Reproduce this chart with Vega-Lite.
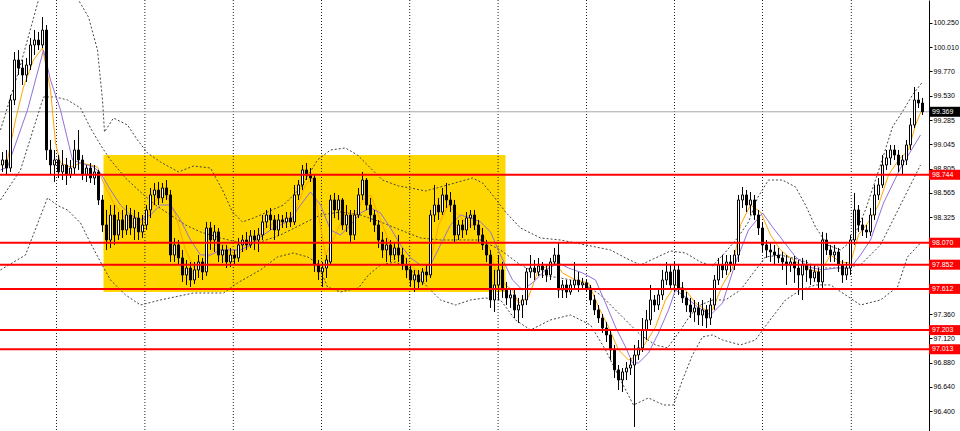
{
"$schema":"https://vega.github.io/schema/vega-lite/v6.json",
"width":929,"height":431,
"autosize":{"type":"none"},
"padding":{"left":0,"top":0,"right":31,"bottom":0},
"background":"white",
"config":{"view":{"stroke":null},"font":"Liberation Sans",
 "axisY":{"labelOverlap":false,"labelBound":false,"labelFlush":false,"labelFontSize":7,"labelFont":"Liberation Sans","labelColor":"#000000","tickColor":"#000000","domainColor":"#000000","tickSize":3,"labelPadding":1,"grid":false,"title":null,"tickCount":100}},
"datasets":{
"candles":[
{"i":0,"o":98.841,"h":98.970,"l":98.772,"c":98.891},
{"i":1,"o":98.891,"h":98.990,"l":98.742,"c":98.811},
{"i":2,"o":98.811,"h":99.536,"l":98.772,"c":99.486},
{"i":3,"o":99.486,"h":99.962,"l":99.436,"c":99.883},
{"i":4,"o":99.883,"h":99.982,"l":99.734,"c":99.803},
{"i":5,"o":99.803,"h":99.883,"l":99.635,"c":99.734},
{"i":6,"o":99.734,"h":99.903,"l":99.665,"c":99.833},
{"i":7,"o":99.833,"h":100.101,"l":99.784,"c":100.032},
{"i":8,"o":100.032,"h":100.180,"l":99.932,"c":100.081},
{"i":9,"o":100.081,"h":100.161,"l":99.982,"c":100.032},
{"i":10,"o":100.032,"h":100.309,"l":100.002,"c":100.180},
{"i":11,"o":100.180,"h":100.230,"l":98.891,"c":98.990},
{"i":12,"o":98.990,"h":99.089,"l":98.742,"c":98.841},
{"i":13,"o":98.841,"h":98.990,"l":98.673,"c":98.891},
{"i":14,"o":98.891,"h":98.940,"l":98.712,"c":98.772},
{"i":15,"o":98.772,"h":98.990,"l":98.692,"c":98.841},
{"i":16,"o":98.841,"h":98.911,"l":98.643,"c":98.742},
{"i":17,"o":98.742,"h":98.891,"l":98.712,"c":98.811},
{"i":18,"o":98.811,"h":99.089,"l":98.742,"c":98.990},
{"i":19,"o":98.990,"h":99.188,"l":98.792,"c":98.891},
{"i":20,"o":98.891,"h":98.940,"l":98.692,"c":98.742},
{"i":21,"o":98.742,"h":98.841,"l":98.673,"c":98.811},
{"i":22,"o":98.811,"h":98.861,"l":98.663,"c":98.712},
{"i":23,"o":98.712,"h":98.841,"l":98.643,"c":98.772},
{"i":24,"o":98.772,"h":98.792,"l":98.444,"c":98.494},
{"i":25,"o":98.494,"h":98.544,"l":98.177,"c":98.246},
{"i":26,"o":98.246,"h":98.395,"l":97.998,"c":98.097},
{"i":27,"o":98.097,"h":98.444,"l":98.018,"c":98.345},
{"i":28,"o":98.345,"h":98.444,"l":98.048,"c":98.147},
{"i":29,"o":98.147,"h":98.375,"l":98.097,"c":98.296},
{"i":30,"o":98.296,"h":98.395,"l":98.117,"c":98.196},
{"i":31,"o":98.196,"h":98.444,"l":98.147,"c":98.345},
{"i":32,"o":98.345,"h":98.415,"l":98.147,"c":98.216},
{"i":33,"o":98.216,"h":98.395,"l":98.097,"c":98.315},
{"i":34,"o":98.315,"h":98.375,"l":98.097,"c":98.177},
{"i":35,"o":98.177,"h":98.345,"l":98.117,"c":98.246},
{"i":36,"o":98.246,"h":98.444,"l":98.196,"c":98.395},
{"i":37,"o":98.395,"h":98.613,"l":98.315,"c":98.544},
{"i":38,"o":98.544,"h":98.663,"l":98.444,"c":98.593},
{"i":39,"o":98.593,"h":98.673,"l":98.444,"c":98.514},
{"i":40,"o":98.514,"h":98.663,"l":98.464,"c":98.613},
{"i":41,"o":98.613,"h":98.692,"l":98.494,"c":98.544},
{"i":42,"o":98.544,"h":98.593,"l":97.879,"c":97.948},
{"i":43,"o":97.948,"h":98.117,"l":97.879,"c":98.048},
{"i":44,"o":98.048,"h":98.097,"l":97.849,"c":97.919},
{"i":45,"o":97.919,"h":97.998,"l":97.681,"c":97.750},
{"i":46,"o":97.750,"h":97.899,"l":97.651,"c":97.819},
{"i":47,"o":97.819,"h":97.879,"l":97.631,"c":97.700},
{"i":48,"o":97.700,"h":97.879,"l":97.661,"c":97.800},
{"i":49,"o":97.800,"h":97.948,"l":97.720,"c":97.879},
{"i":50,"o":97.879,"h":97.919,"l":97.700,"c":97.780},
{"i":51,"o":97.780,"h":98.276,"l":97.740,"c":98.216},
{"i":52,"o":98.216,"h":98.276,"l":97.998,"c":98.097},
{"i":53,"o":98.097,"h":98.246,"l":97.978,"c":98.177},
{"i":54,"o":98.177,"h":98.216,"l":97.879,"c":97.948},
{"i":55,"o":97.948,"h":98.048,"l":97.869,"c":97.998},
{"i":56,"o":97.998,"h":98.048,"l":97.819,"c":97.879},
{"i":57,"o":97.879,"h":98.018,"l":97.829,"c":97.948},
{"i":58,"o":97.948,"h":97.998,"l":97.849,"c":97.919},
{"i":59,"o":97.919,"h":98.117,"l":97.879,"c":98.048},
{"i":60,"o":98.048,"h":98.147,"l":97.978,"c":98.097},
{"i":61,"o":98.097,"h":98.177,"l":97.998,"c":98.048},
{"i":62,"o":98.048,"h":98.196,"l":98.018,"c":98.137},
{"i":63,"o":98.137,"h":98.196,"l":97.998,"c":98.097},
{"i":64,"o":98.097,"h":98.216,"l":97.978,"c":98.147},
{"i":65,"o":98.147,"h":98.345,"l":98.097,"c":98.276},
{"i":66,"o":98.276,"h":98.395,"l":98.216,"c":98.345},
{"i":67,"o":98.345,"h":98.415,"l":98.196,"c":98.296},
{"i":68,"o":98.296,"h":98.345,"l":98.097,"c":98.196},
{"i":69,"o":98.196,"h":98.355,"l":98.137,"c":98.296},
{"i":70,"o":98.296,"h":98.345,"l":98.216,"c":98.276},
{"i":71,"o":98.276,"h":98.375,"l":98.216,"c":98.315},
{"i":72,"o":98.315,"h":98.375,"l":98.226,"c":98.276},
{"i":73,"o":98.276,"h":98.643,"l":98.246,"c":98.544},
{"i":74,"o":98.544,"h":98.692,"l":98.494,"c":98.643},
{"i":75,"o":98.643,"h":98.841,"l":98.593,"c":98.792},
{"i":76,"o":98.792,"h":98.861,"l":98.692,"c":98.742},
{"i":77,"o":98.742,"h":98.811,"l":98.673,"c":98.712},
{"i":78,"o":98.712,"h":98.742,"l":97.780,"c":97.849},
{"i":79,"o":97.849,"h":97.899,"l":97.700,"c":97.780},
{"i":80,"o":97.780,"h":97.879,"l":97.631,"c":97.819},
{"i":81,"o":97.819,"h":97.948,"l":97.720,"c":97.899},
{"i":82,"o":97.879,"h":98.544,"l":97.849,"c":98.494},
{"i":83,"o":98.494,"h":98.564,"l":98.315,"c":98.395},
{"i":84,"o":98.395,"h":98.544,"l":98.296,"c":98.494},
{"i":85,"o":98.494,"h":98.514,"l":98.196,"c":98.246},
{"i":86,"o":98.246,"h":98.444,"l":98.177,"c":98.345},
{"i":87,"o":98.345,"h":98.395,"l":98.077,"c":98.147},
{"i":88,"o":98.147,"h":98.395,"l":98.097,"c":98.345},
{"i":89,"o":98.345,"h":98.613,"l":98.315,"c":98.544},
{"i":90,"o":98.544,"h":98.772,"l":98.494,"c":98.692},
{"i":91,"o":98.692,"h":98.712,"l":98.395,"c":98.444},
{"i":92,"o":98.444,"h":98.514,"l":98.276,"c":98.345},
{"i":93,"o":98.345,"h":98.395,"l":98.177,"c":98.246},
{"i":94,"o":98.246,"h":98.296,"l":98.018,"c":98.097},
{"i":95,"o":98.097,"h":98.177,"l":97.919,"c":97.998},
{"i":96,"o":97.998,"h":98.117,"l":97.879,"c":98.048},
{"i":97,"o":98.048,"h":98.097,"l":97.879,"c":97.948},
{"i":98,"o":97.948,"h":98.067,"l":97.899,"c":98.018},
{"i":99,"o":98.018,"h":98.147,"l":97.879,"c":97.948},
{"i":100,"o":97.948,"h":98.018,"l":97.800,"c":97.849},
{"i":101,"o":97.849,"h":97.919,"l":97.720,"c":97.800},
{"i":102,"o":97.800,"h":97.849,"l":97.631,"c":97.700},
{"i":103,"o":97.700,"h":97.800,"l":97.581,"c":97.750},
{"i":104,"o":97.750,"h":97.800,"l":97.621,"c":97.681},
{"i":105,"o":97.681,"h":97.819,"l":97.651,"c":97.780},
{"i":106,"o":97.780,"h":97.849,"l":97.681,"c":97.750},
{"i":107,"o":97.750,"h":98.395,"l":97.720,"c":98.345},
{"i":108,"o":98.345,"h":98.643,"l":98.276,"c":98.444},
{"i":109,"o":98.444,"h":98.514,"l":98.296,"c":98.375},
{"i":110,"o":98.375,"h":98.613,"l":98.345,"c":98.544},
{"i":111,"o":98.544,"h":98.663,"l":98.415,"c":98.494},
{"i":112,"o":98.494,"h":98.573,"l":98.375,"c":98.444},
{"i":113,"o":98.444,"h":98.494,"l":98.067,"c":98.147},
{"i":114,"o":98.147,"h":98.296,"l":98.097,"c":98.246},
{"i":115,"o":98.246,"h":98.296,"l":98.117,"c":98.196},
{"i":116,"o":98.196,"h":98.375,"l":98.147,"c":98.315},
{"i":117,"o":98.315,"h":98.395,"l":98.216,"c":98.345},
{"i":118,"o":98.345,"h":98.395,"l":98.196,"c":98.246},
{"i":119,"o":98.246,"h":98.296,"l":98.077,"c":98.147},
{"i":120,"o":98.147,"h":98.216,"l":97.998,"c":98.048},
{"i":121,"o":98.048,"h":98.097,"l":97.879,"c":97.948},
{"i":122,"o":97.948,"h":97.998,"l":97.423,"c":97.502},
{"i":123,"o":97.502,"h":97.800,"l":97.383,"c":97.651},
{"i":124,"o":97.651,"h":97.948,"l":97.502,"c":97.800},
{"i":125,"o":97.800,"h":97.879,"l":97.522,"c":97.601},
{"i":126,"o":97.601,"h":97.681,"l":97.452,"c":97.522},
{"i":127,"o":97.522,"h":97.621,"l":97.423,"c":97.552},
{"i":128,"o":97.552,"h":97.601,"l":97.323,"c":97.403},
{"i":129,"o":97.403,"h":97.522,"l":97.274,"c":97.452},
{"i":130,"o":97.452,"h":97.552,"l":97.323,"c":97.502},
{"i":131,"o":97.502,"h":97.819,"l":97.452,"c":97.780},
{"i":132,"o":97.780,"h":97.948,"l":97.720,"c":97.819},
{"i":133,"o":97.819,"h":97.899,"l":97.700,"c":97.780},
{"i":134,"o":97.780,"h":97.919,"l":97.740,"c":97.839},
{"i":135,"o":97.839,"h":97.879,"l":97.720,"c":97.800},
{"i":136,"o":97.800,"h":97.859,"l":97.681,"c":97.750},
{"i":137,"o":97.750,"h":97.919,"l":97.700,"c":97.879},
{"i":138,"o":97.879,"h":98.018,"l":97.849,"c":97.948},
{"i":139,"o":97.948,"h":98.067,"l":97.522,"c":97.601},
{"i":140,"o":97.601,"h":97.700,"l":97.522,"c":97.651},
{"i":141,"o":97.651,"h":97.700,"l":97.522,"c":97.581},
{"i":142,"o":97.581,"h":97.700,"l":97.552,"c":97.651},
{"i":143,"o":97.651,"h":97.879,"l":97.601,"c":97.700},
{"i":144,"o":97.700,"h":97.780,"l":97.581,"c":97.651},
{"i":145,"o":97.651,"h":97.720,"l":97.601,"c":97.671},
{"i":146,"o":97.671,"h":97.700,"l":97.581,"c":97.621},
{"i":147,"o":97.621,"h":97.651,"l":97.452,"c":97.502},
{"i":148,"o":97.502,"h":97.552,"l":97.353,"c":97.403},
{"i":149,"o":97.403,"h":97.452,"l":97.274,"c":97.323},
{"i":150,"o":97.323,"h":97.363,"l":97.175,"c":97.224},
{"i":151,"o":97.224,"h":97.284,"l":97.085,"c":97.155},
{"i":152,"o":97.155,"h":97.204,"l":96.907,"c":97.006},
{"i":153,"o":97.006,"h":97.056,"l":96.728,"c":96.808},
{"i":154,"o":96.808,"h":96.857,"l":96.609,"c":96.708},
{"i":155,"o":96.708,"h":96.827,"l":96.589,"c":96.788},
{"i":156,"o":96.788,"h":96.887,"l":96.708,"c":96.827},
{"i":157,"o":96.827,"h":96.927,"l":96.758,"c":96.857},
{"i":158,"o":96.857,"h":97.056,"l":96.242,"c":96.956},
{"i":159,"o":96.956,"h":97.105,"l":96.907,"c":97.026},
{"i":160,"o":97.026,"h":97.323,"l":96.986,"c":97.204},
{"i":161,"o":97.204,"h":97.403,"l":97.105,"c":97.304},
{"i":162,"o":97.304,"h":97.651,"l":97.254,"c":97.502},
{"i":163,"o":97.502,"h":97.552,"l":97.383,"c":97.452},
{"i":164,"o":97.452,"h":97.621,"l":97.403,"c":97.552},
{"i":165,"o":97.552,"h":97.800,"l":97.502,"c":97.700},
{"i":166,"o":97.700,"h":97.879,"l":97.651,"c":97.780},
{"i":167,"o":97.780,"h":97.849,"l":97.601,"c":97.651},
{"i":168,"o":97.651,"h":97.879,"l":97.581,"c":97.800},
{"i":169,"o":97.800,"h":97.849,"l":97.552,"c":97.621},
{"i":170,"o":97.621,"h":97.681,"l":97.472,"c":97.522},
{"i":171,"o":97.522,"h":97.581,"l":97.383,"c":97.452},
{"i":172,"o":97.452,"h":97.522,"l":97.323,"c":97.383},
{"i":173,"o":97.383,"h":97.502,"l":97.284,"c":97.423},
{"i":174,"o":97.423,"h":97.482,"l":97.254,"c":97.353},
{"i":175,"o":97.353,"h":97.502,"l":97.244,"c":97.403},
{"i":176,"o":97.403,"h":97.452,"l":97.224,"c":97.323},
{"i":177,"o":97.323,"h":97.522,"l":97.254,"c":97.452},
{"i":178,"o":97.452,"h":97.750,"l":97.403,"c":97.700},
{"i":179,"o":97.700,"h":97.919,"l":97.651,"c":97.849},
{"i":180,"o":97.849,"h":97.948,"l":97.720,"c":97.800},
{"i":181,"o":97.800,"h":97.948,"l":97.750,"c":97.879},
{"i":182,"o":97.879,"h":97.948,"l":97.780,"c":97.849},
{"i":183,"o":97.849,"h":97.998,"l":97.800,"c":97.948},
{"i":184,"o":97.948,"h":98.544,"l":97.879,"c":98.494},
{"i":185,"o":98.494,"h":98.623,"l":98.415,"c":98.544},
{"i":186,"o":98.544,"h":98.593,"l":98.375,"c":98.444},
{"i":187,"o":98.444,"h":98.573,"l":98.345,"c":98.494},
{"i":188,"o":98.494,"h":98.544,"l":98.296,"c":98.345},
{"i":189,"o":98.345,"h":98.395,"l":98.147,"c":98.216},
{"i":190,"o":98.216,"h":98.276,"l":97.978,"c":98.048},
{"i":191,"o":98.048,"h":98.097,"l":97.919,"c":97.998},
{"i":192,"o":97.998,"h":98.067,"l":97.879,"c":97.978},
{"i":193,"o":97.978,"h":98.048,"l":97.849,"c":97.948},
{"i":194,"o":97.948,"h":98.018,"l":97.869,"c":97.919},
{"i":195,"o":97.919,"h":97.978,"l":97.800,"c":97.879},
{"i":196,"o":97.879,"h":97.948,"l":97.651,"c":97.849},
{"i":197,"o":97.849,"h":97.919,"l":97.780,"c":97.879},
{"i":198,"o":97.879,"h":97.938,"l":97.671,"c":97.819},
{"i":199,"o":97.819,"h":97.899,"l":97.552,"c":97.750},
{"i":200,"o":97.750,"h":97.919,"l":97.502,"c":97.849},
{"i":201,"o":97.849,"h":97.899,"l":97.681,"c":97.800},
{"i":202,"o":97.800,"h":97.849,"l":97.651,"c":97.720},
{"i":203,"o":97.720,"h":97.839,"l":97.681,"c":97.780},
{"i":204,"o":97.780,"h":97.819,"l":97.601,"c":97.681},
{"i":205,"o":97.681,"h":98.177,"l":97.621,"c":98.097},
{"i":206,"o":98.097,"h":98.167,"l":97.948,"c":97.998},
{"i":207,"o":97.998,"h":98.048,"l":97.879,"c":97.948},
{"i":208,"o":97.948,"h":98.048,"l":97.879,"c":97.978},
{"i":209,"o":97.978,"h":98.018,"l":97.780,"c":97.849},
{"i":210,"o":97.849,"h":97.899,"l":97.671,"c":97.750},
{"i":211,"o":97.750,"h":97.879,"l":97.700,"c":97.819},
{"i":212,"o":97.819,"h":98.147,"l":97.750,"c":98.097},
{"i":213,"o":98.097,"h":98.564,"l":98.048,"c":98.395},
{"i":214,"o":98.395,"h":98.444,"l":98.177,"c":98.246},
{"i":215,"o":98.246,"h":98.315,"l":98.137,"c":98.196},
{"i":216,"o":98.196,"h":98.246,"l":98.117,"c":98.177},
{"i":217,"o":98.177,"h":98.415,"l":98.137,"c":98.345},
{"i":218,"o":98.345,"h":98.643,"l":98.296,"c":98.544},
{"i":219,"o":98.544,"h":98.712,"l":98.494,"c":98.643},
{"i":220,"o":98.643,"h":98.940,"l":98.613,"c":98.841},
{"i":221,"o":98.841,"h":98.990,"l":98.792,"c":98.911},
{"i":222,"o":98.911,"h":99.040,"l":98.841,"c":98.990},
{"i":223,"o":98.990,"h":99.040,"l":98.891,"c":98.940},
{"i":224,"o":98.940,"h":98.990,"l":98.772,"c":98.841},
{"i":225,"o":98.841,"h":98.940,"l":98.742,"c":98.891},
{"i":226,"o":98.891,"h":99.089,"l":98.841,"c":99.040},
{"i":227,"o":99.040,"h":99.307,"l":98.990,"c":99.238},
{"i":228,"o":99.238,"h":99.615,"l":99.208,"c":99.486},
{"i":229,"o":99.486,"h":99.565,"l":99.407,"c":99.456},
{"i":230,"o":99.456,"h":99.506,"l":99.337,"c":99.369}
],
"ma":[
{"s":"fast","i":-0.5,"p":98.841},{"s":"fast","i":1.25,"p":98.891},{"s":"fast","i":3.25,"p":99.288},{"s":"fast","i":5.25,"p":99.615},{"s":"fast","i":7.75,"p":99.883},{"s":"fast","i":10,"p":100.002},{"s":"fast","i":12,"p":99.585},{"s":"fast","i":13.25,"p":99.059},{"s":"fast","i":14.5,"p":98.861},{"s":"fast","i":17,"p":98.821},{"s":"fast","i":19.5,"p":98.861},{"s":"fast","i":22,"p":98.841},{"s":"fast","i":23.75,"p":98.821},{"s":"fast","i":25.25,"p":98.663},{"s":"fast","i":27.75,"p":98.464},{"s":"fast","i":30.25,"p":98.325},{"s":"fast","i":33.25,"p":98.246},{"s":"fast","i":35.75,"p":98.296},{"s":"fast","i":38.25,"p":98.494},{"s":"fast","i":40.75,"p":98.564},{"s":"fast","i":43.25,"p":98.345},{"s":"fast","i":45.75,"p":97.998},{"s":"fast","i":48.25,"p":97.800},{"s":"fast","i":50.75,"p":97.879},{"s":"fast","i":53.25,"p":98.048},{"s":"fast","i":55.75,"p":98.048},{"s":"fast","i":58.25,"p":97.948},{"s":"fast","i":60.75,"p":97.998},{"s":"fast","i":63.25,"p":98.097},{"s":"fast","i":65.75,"p":98.216},{"s":"fast","i":68.25,"p":98.276},{"s":"fast","i":70.75,"p":98.276},{"s":"fast","i":73.25,"p":98.395},{"s":"fast","i":75.75,"p":98.643},{"s":"fast","i":77.5,"p":98.712},{"s":"fast","i":79,"p":98.345},{"s":"fast","i":80.75,"p":97.948},{"s":"fast","i":83.25,"p":98.147},{"s":"fast","i":85.75,"p":98.375},{"s":"fast","i":88.25,"p":98.345},{"s":"fast","i":90,"p":98.494},{"s":"fast","i":92,"p":98.544},{"s":"fast","i":94.5,"p":98.296},{"s":"fast","i":97,"p":98.048},{"s":"fast","i":99.5,"p":97.978},{"s":"fast","i":102,"p":97.849},{"s":"fast","i":104.5,"p":97.750},{"s":"fast","i":107,"p":97.879},{"s":"fast","i":109,"p":98.246},{"s":"fast","i":111.5,"p":98.444},{"s":"fast","i":114,"p":98.345},{"s":"fast","i":116.5,"p":98.246},{"s":"fast","i":119,"p":98.246},{"s":"fast","i":121.5,"p":98.048},{"s":"fast","i":123.25,"p":97.800},{"s":"fast","i":125.75,"p":97.651},{"s":"fast","i":127.5,"p":97.601},{"s":"fast","i":129,"p":97.472},{"s":"fast","i":131.5,"p":97.532},{"s":"fast","i":134,"p":97.800},{"s":"fast","i":138.25,"p":97.869},{"s":"fast","i":140,"p":97.770},{"s":"fast","i":143.25,"p":97.700},{"s":"fast","i":146.5,"p":97.671},{"s":"fast","i":149,"p":97.433},{"s":"fast","i":151.5,"p":97.234},{"s":"fast","i":154,"p":97.006},{"s":"fast","i":156.5,"p":96.907},{"s":"fast","i":158.25,"p":96.937},{"s":"fast","i":160.75,"p":97.075},{"s":"fast","i":163.25,"p":97.234},{"s":"fast","i":165.75,"p":97.502},{"s":"fast","i":168.25,"p":97.651},{"s":"fast","i":170.75,"p":97.601},{"s":"fast","i":173.25,"p":97.472},{"s":"fast","i":175.75,"p":97.403},{"s":"fast","i":177.5,"p":97.403},{"s":"fast","i":180,"p":97.651},{"s":"fast","i":182.5,"p":97.819},{"s":"fast","i":184.5,"p":98.246},{"s":"fast","i":187,"p":98.444},{"s":"fast","i":189.5,"p":98.375},{"s":"fast","i":192,"p":98.147},{"s":"fast","i":194.5,"p":97.998},{"s":"fast","i":197,"p":97.919},{"s":"fast","i":199.5,"p":97.849},{"s":"fast","i":202,"p":97.800},{"s":"fast","i":204.5,"p":97.780},{"s":"fast","i":207,"p":97.948},{"s":"fast","i":209.5,"p":97.879},{"s":"fast","i":212,"p":97.869},{"s":"fast","i":214,"p":98.147},{"s":"fast","i":216.5,"p":98.276},{"s":"fast","i":219,"p":98.444},{"s":"fast","i":221.5,"p":98.742},{"s":"fast","i":224,"p":98.891},{"s":"fast","i":226.5,"p":98.990},{"s":"fast","i":228.25,"p":99.238},{"s":"fast","i":230,"p":99.407},
{"s":"slow","i":-0.5,"p":98.792},{"s":"slow","i":1.25,"p":98.821},{"s":"slow","i":6.25,"p":99.387},{"s":"slow","i":10.25,"p":99.982},{"s":"slow","i":12,"p":99.684},{"s":"slow","i":14.5,"p":99.387},{"s":"slow","i":17.5,"p":98.891},{"s":"slow","i":19.5,"p":98.861},{"s":"slow","i":22.75,"p":98.821},{"s":"slow","i":24.5,"p":98.762},{"s":"slow","i":27,"p":98.593},{"s":"slow","i":29.5,"p":98.444},{"s":"slow","i":32,"p":98.345},{"s":"slow","i":34.5,"p":98.296},{"s":"slow","i":37,"p":98.345},{"s":"slow","i":39.5,"p":98.444},{"s":"slow","i":42,"p":98.444},{"s":"slow","i":44.5,"p":98.296},{"s":"slow","i":47,"p":98.097},{"s":"slow","i":49.5,"p":97.948},{"s":"slow","i":52,"p":97.948},{"s":"slow","i":54.5,"p":97.998},{"s":"slow","i":57,"p":97.998},{"s":"slow","i":59.5,"p":97.998},{"s":"slow","i":62,"p":98.048},{"s":"slow","i":64.5,"p":98.127},{"s":"slow","i":67,"p":98.196},{"s":"slow","i":69.5,"p":98.246},{"s":"slow","i":72,"p":98.296},{"s":"slow","i":74.5,"p":98.444},{"s":"slow","i":77,"p":98.573},{"s":"slow","i":79.5,"p":98.444},{"s":"slow","i":82,"p":98.196},{"s":"slow","i":84.5,"p":98.147},{"s":"slow","i":87,"p":98.246},{"s":"slow","i":89.5,"p":98.365},{"s":"slow","i":92,"p":98.415},{"s":"slow","i":94.5,"p":98.365},{"s":"slow","i":97,"p":98.216},{"s":"slow","i":99.5,"p":98.048},{"s":"slow","i":102,"p":97.919},{"s":"slow","i":104.5,"p":97.849},{"s":"slow","i":107,"p":97.849},{"s":"slow","i":109.5,"p":98.048},{"s":"slow","i":112,"p":98.246},{"s":"slow","i":114.5,"p":98.345},{"s":"slow","i":117,"p":98.315},{"s":"slow","i":119.5,"p":98.276},{"s":"slow","i":122,"p":98.177},{"s":"slow","i":124.5,"p":97.948},{"s":"slow","i":127.5,"p":97.700},{"s":"slow","i":130,"p":97.601},{"s":"slow","i":132.5,"p":97.671},{"s":"slow","i":135.75,"p":97.800},{"s":"slow","i":139,"p":97.869},{"s":"slow","i":141.5,"p":97.819},{"s":"slow","i":145,"p":97.770},{"s":"slow","i":148.25,"p":97.700},{"s":"slow","i":150.75,"p":97.472},{"s":"slow","i":153.25,"p":97.234},{"s":"slow","i":155.75,"p":97.036},{"s":"slow","i":157.5,"p":96.877},{"s":"slow","i":159,"p":96.877},{"s":"slow","i":161.5,"p":96.976},{"s":"slow","i":164,"p":97.175},{"s":"slow","i":166.5,"p":97.403},{"s":"slow","i":168.25,"p":97.601},{"s":"slow","i":170.75,"p":97.532},{"s":"slow","i":173.75,"p":97.433},{"s":"slow","i":177,"p":97.353},{"s":"slow","i":180,"p":97.472},{"s":"slow","i":183.25,"p":97.869},{"s":"slow","i":186.5,"p":98.196},{"s":"slow","i":190,"p":98.365},{"s":"slow","i":192.5,"p":98.226},{"s":"slow","i":195,"p":98.097},{"s":"slow","i":198.25,"p":97.929},{"s":"slow","i":201.5,"p":97.829},{"s":"slow","i":205,"p":97.800},{"s":"slow","i":208.25,"p":97.819},{"s":"slow","i":212,"p":97.819},{"s":"slow","i":214.5,"p":97.948},{"s":"slow","i":217,"p":98.097},{"s":"slow","i":220.25,"p":98.464},{"s":"slow","i":224.5,"p":98.811},{"s":"slow","i":229.5,"p":99.139}
],
"bb":[
{"s":"u","i":-0.5,"p":99.188},{"s":"u","i":4.5,"p":99.833},{"s":"u","i":9,"p":100.478},{"s":"u","i":12,"p":100.875},{"s":"u","i":15.75,"p":100.875},{"s":"u","i":19,"p":100.478},{"s":"u","i":21.5,"p":100.309},{"s":"u","i":23.75,"p":99.982},{"s":"u","i":25,"p":99.486},{"s":"u","i":25.5,"p":99.169},{"s":"u","i":27.75,"p":99.307},{"s":"u","i":31.25,"p":99.238},{"s":"u","i":33.75,"p":99.089},{"s":"u","i":36.25,"p":98.960},{"s":"u","i":39.5,"p":98.871},{"s":"u","i":44,"p":98.772},{"s":"u","i":47.75,"p":98.831},{"s":"u","i":52,"p":98.811},{"s":"u","i":55,"p":98.593},{"s":"u","i":57.5,"p":98.375},{"s":"u","i":60,"p":98.276},{"s":"u","i":62.75,"p":98.315},{"s":"u","i":66.25,"p":98.375},{"s":"u","i":70.25,"p":98.444},{"s":"u","i":74.5,"p":98.613},{"s":"u","i":78.75,"p":98.891},{"s":"u","i":82,"p":98.990},{"s":"u","i":85.75,"p":99.010},{"s":"u","i":88.75,"p":98.940},{"s":"u","i":92,"p":98.811},{"s":"u","i":95,"p":98.692},{"s":"u","i":99,"p":98.633},{"s":"u","i":102,"p":98.613},{"s":"u","i":105.75,"p":98.583},{"s":"u","i":109.5,"p":98.623},{"s":"u","i":114,"p":98.673},{"s":"u","i":117.5,"p":98.712},{"s":"u","i":120,"p":98.663},{"s":"u","i":122.5,"p":98.544},{"s":"u","i":125.75,"p":98.375},{"s":"u","i":129.5,"p":98.216},{"s":"u","i":134.5,"p":98.117},{"s":"u","i":139.5,"p":98.097},{"s":"u","i":145.75,"p":98.048},{"s":"u","i":152,"p":97.998},{"s":"u","i":155.75,"p":97.919},{"s":"u","i":159.5,"p":97.849},{"s":"u","i":163.25,"p":97.919},{"s":"u","i":167,"p":97.988},{"s":"u","i":170.75,"p":97.968},{"s":"u","i":174.5,"p":97.879},{"s":"u","i":177.5,"p":97.839},{"s":"u","i":180.75,"p":97.978},{"s":"u","i":183.75,"p":98.117},{"s":"u","i":186.5,"p":98.276},{"s":"u","i":188.75,"p":98.514},{"s":"u","i":191.5,"p":98.692},{"s":"u","i":195,"p":98.692},{"s":"u","i":198.25,"p":98.623},{"s":"u","i":200.75,"p":98.444},{"s":"u","i":203.25,"p":98.226},{"s":"u","i":206.25,"p":98.048},{"s":"u","i":209.5,"p":97.998},{"s":"u","i":212.5,"p":98.097},{"s":"u","i":215.75,"p":98.395},{"s":"u","i":219.5,"p":98.841},{"s":"u","i":222.5,"p":99.218},{"s":"u","i":225.25,"p":99.387},{"s":"u","i":227.5,"p":99.536},{"s":"u","i":230,"p":99.665},
{"s":"m","i":-0.5,"p":98.494},{"s":"m","i":4.5,"p":98.792},{"s":"m","i":10.25,"p":99.516},{"s":"m","i":13.25,"p":99.516},{"s":"m","i":16.25,"p":99.486},{"s":"m","i":19.5,"p":99.407},{"s":"m","i":22,"p":99.208},{"s":"m","i":24.5,"p":99.040},{"s":"m","i":27,"p":98.891},{"s":"m","i":30.75,"p":98.712},{"s":"m","i":34.5,"p":98.573},{"s":"m","i":38.25,"p":98.444},{"s":"m","i":42,"p":98.345},{"s":"m","i":45.75,"p":98.246},{"s":"m","i":49.5,"p":98.177},{"s":"m","i":54.5,"p":98.117},{"s":"m","i":59.5,"p":98.067},{"s":"m","i":64.5,"p":98.077},{"s":"m","i":69.5,"p":98.147},{"s":"m","i":74.5,"p":98.246},{"s":"m","i":79.5,"p":98.345},{"s":"m","i":84.5,"p":98.375},{"s":"m","i":89.5,"p":98.345},{"s":"m","i":94.5,"p":98.276},{"s":"m","i":99.5,"p":98.196},{"s":"m","i":104.5,"p":98.117},{"s":"m","i":109.5,"p":98.097},{"s":"m","i":114.5,"p":98.097},{"s":"m","i":119.5,"p":98.097},{"s":"m","i":124.5,"p":97.998},{"s":"m","i":129.5,"p":97.849},{"s":"m","i":134.5,"p":97.750},{"s":"m","i":139.5,"p":97.720},{"s":"m","i":144.5,"p":97.681},{"s":"m","i":149.5,"p":97.552},{"s":"m","i":154.5,"p":97.353},{"s":"m","i":159.5,"p":97.155},{"s":"m","i":163.25,"p":97.056},{"s":"m","i":166.25,"p":97.026},{"s":"m","i":169.5,"p":97.204},{"s":"m","i":172,"p":97.353},{"s":"m","i":174.5,"p":97.452},{"s":"m","i":177.5,"p":97.502},{"s":"m","i":180.75,"p":97.502},{"s":"m","i":184.5,"p":97.601},{"s":"m","i":188.25,"p":97.800},{"s":"m","i":190.75,"p":97.929},{"s":"m","i":194.5,"p":97.948},{"s":"m","i":199.5,"p":97.899},{"s":"m","i":204.5,"p":97.819},{"s":"m","i":209.5,"p":97.819},{"s":"m","i":214.5,"p":97.849},{"s":"m","i":219.5,"p":98.048},{"s":"m","i":224.5,"p":98.444},{"s":"m","i":229.5,"p":98.841},
{"s":"l","i":-0.5,"p":97.800},{"s":"l","i":5.75,"p":97.948},{"s":"l","i":11.25,"p":98.514},{"s":"l","i":14,"p":98.434},{"s":"l","i":16.25,"p":98.395},{"s":"l","i":19.5,"p":98.266},{"s":"l","i":22,"p":98.067},{"s":"l","i":24.5,"p":97.879},{"s":"l","i":27,"p":97.700},{"s":"l","i":30.75,"p":97.552},{"s":"l","i":34.5,"p":97.452},{"s":"l","i":39.5,"p":97.502},{"s":"l","i":47.75,"p":97.571},{"s":"l","i":55.25,"p":97.571},{"s":"l","i":58.75,"p":97.671},{"s":"l","i":64.5,"p":97.800},{"s":"l","i":68.75,"p":97.929},{"s":"l","i":72.75,"p":97.968},{"s":"l","i":76.25,"p":97.929},{"s":"l","i":78.75,"p":97.869},{"s":"l","i":81.25,"p":97.631},{"s":"l","i":84.5,"p":97.581},{"s":"l","i":89,"p":97.621},{"s":"l","i":91.5,"p":97.750},{"s":"l","i":94.5,"p":97.849},{"s":"l","i":98.25,"p":97.879},{"s":"l","i":102,"p":97.800},{"s":"l","i":105.75,"p":97.651},{"s":"l","i":109.5,"p":97.502},{"s":"l","i":113.25,"p":97.452},{"s":"l","i":117,"p":97.502},{"s":"l","i":120.75,"p":97.522},{"s":"l","i":124.5,"p":97.502},{"s":"l","i":128.25,"p":97.304},{"s":"l","i":132,"p":97.204},{"s":"l","i":137,"p":97.304},{"s":"l","i":142,"p":97.353},{"s":"l","i":147,"p":97.254},{"s":"l","i":150.75,"p":97.006},{"s":"l","i":154.5,"p":96.708},{"s":"l","i":157.75,"p":96.460},{"s":"l","i":161.5,"p":96.530},{"s":"l","i":165.25,"p":96.460},{"s":"l","i":167.75,"p":96.460},{"s":"l","i":170,"p":96.708},{"s":"l","i":172.5,"p":96.956},{"s":"l","i":175,"p":97.135},{"s":"l","i":177.5,"p":97.155},{"s":"l","i":180,"p":97.105},{"s":"l","i":184.5,"p":97.056},{"s":"l","i":188.25,"p":97.105},{"s":"l","i":191.5,"p":97.284},{"s":"l","i":195.75,"p":97.502},{"s":"l","i":199.5,"p":97.601},{"s":"l","i":203.25,"p":97.651},{"s":"l","i":207,"p":97.651},{"s":"l","i":210.75,"p":97.552},{"s":"l","i":214.5,"p":97.452},{"s":"l","i":219.5,"p":97.502},{"s":"l","i":223.75,"p":97.631},{"s":"l","i":226.25,"p":97.929},{"s":"l","i":229.5,"p":98.067}
],
"levels":[
{"p":98.744,"t":"98.744"},{"p":98.070,"t":"98.070"},{"p":97.852,"t":"97.852"},{"p":97.612,"t":"97.612"},{"p":97.203,"t":"97.203"},{"p":97.013,"t":"97.013"}
],
"grid":[{"g":13.5},{"g":35.6},{"g":57.7},{"g":79.75},{"g":101.8},{"g":123.9},{"g":146},{"g":168},{"g":190},{"g":212.2}],
"box":[{"x1":25.25,"x2":125.75,"y1":98.940,"y2":97.581}],
"last":[{"p":99.369,"t":"99.369"}]
},
"layer":[
{"data":{"name":"box"},"mark":{"type":"rect","fill":"#FFD700"},
 "encoding":{
  "x":{"field":"x1","type":"quantitative","scale":{"domain":[-0.625,231.625],"nice":false,"zero":false},"axis":null},
  "x2":{"field":"x2"},
  "y":{"field":"y1","type":"quantitative","title":null,"scale":{"domain":[96.202,100.478],"nice":false,"zero":false},
   "axis":{"orient":"right","title":null,"values":[100.25,100.01,99.77,99.53,99.285,99.045,98.805,98.565,98.325,97.36,97.12,96.88,96.64,96.4],"tickCount":100,"format":".3f","labelOverlap":false,"labelBound":false,"labelFlush":false}},
  "y2":{"field":"y2"}}},
{"data":{"name":"grid"},"mark":{"type":"rule","color":"#222","strokeWidth":1,"strokeDash":[1,2]},
 "encoding":{"x":{"field":"g","type":"quantitative","scale":{"domain":[-0.625,231.625],"nice":false,"zero":false},"axis":null}}},
{"data":{"name":"last"},"mark":{"type":"rule","color":"#a8a8a8","strokeWidth":1},
 "encoding":{"y":{"field":"p","type":"quantitative","title":null,"scale":{"domain":[96.202,100.478],"nice":false,"zero":false}}}},
{"data":{"name":"bb"},"mark":{"type":"line","strokeWidth":1,"color":"#444","strokeDash":[2,2],"clip":true},
 "encoding":{
  "x":{"field":"i","type":"quantitative","scale":{"domain":[-0.625,231.625],"nice":false,"zero":false},"axis":null},
  "y":{"field":"p","type":"quantitative","title":null,"scale":{"domain":[96.202,100.478],"nice":false,"zero":false}},
  "detail":{"field":"s","type":"nominal"}}},
{"data":{"name":"ma"},"mark":{"type":"line","strokeWidth":1,"clip":true},
 "encoding":{
  "x":{"field":"i","type":"quantitative","scale":{"domain":[-0.625,231.625],"nice":false,"zero":false},"axis":null},
  "y":{"field":"p","type":"quantitative","title":null,"scale":{"domain":[96.202,100.478],"nice":false,"zero":false}},
  "color":{"field":"s","type":"nominal","scale":{"domain":["fast","slow"],"range":["#FFA500","#9370DB"]},"legend":null}}},
{"data":{"name":"candles"},"mark":{"type":"rule","color":"#000","strokeWidth":1},
 "encoding":{
  "x":{"field":"i","type":"quantitative","scale":{"domain":[-0.625,231.625],"nice":false,"zero":false},"axis":null},
  "y":{"field":"l","type":"quantitative","title":null,"scale":{"domain":[96.202,100.478],"nice":false,"zero":false}},
  "y2":{"field":"h"}}},
{"data":{"name":"candles"},"mark":{"type":"rect","stroke":"#000","strokeWidth":1,"xOffset":-1,"x2Offset":1},
 "encoding":{
  "x":{"field":"i","type":"quantitative","scale":{"domain":[-0.625,231.625],"nice":false,"zero":false},"axis":null},
  "x2":{"field":"i"},
  "y":{"field":"o","type":"quantitative","title":null,"scale":{"domain":[96.202,100.478],"nice":false,"zero":false}},
  "y2":{"field":"c"},
  "fill":{"condition":{"test":"datum.c >= datum.o","value":"#ffffff"},"value":"#000000"}}},
{"data":{"name":"levels"},"mark":{"type":"rule","color":"#ff0000","strokeWidth":2},
 "encoding":{"y":{"field":"p","type":"quantitative","title":null,"scale":{"domain":[96.202,100.478],"nice":false,"zero":false}}}},
{"data":{"name":"levels"},"mark":{"type":"rect","fill":"#ff0000","x2Offset":31,"yOffset":-5,"y2Offset":5},
 "encoding":{
  "x":{"datum":231.625,"type":"quantitative","scale":{"domain":[-0.625,231.625],"nice":false,"zero":false},"axis":null},
  "x2":{"datum":231.625},
  "y":{"field":"p","type":"quantitative","title":null,"scale":{"domain":[96.202,100.478],"nice":false,"zero":false}},
  "y2":{"field":"p"}}},
{"data":{"name":"levels"},"mark":{"type":"text","color":"#ffffff","align":"left","baseline":"middle","dx":3,"fontSize":7,"font":"Liberation Sans"},
 "encoding":{
  "x":{"datum":231.625,"type":"quantitative","scale":{"domain":[-0.625,231.625],"nice":false,"zero":false},"axis":null},
  "y":{"field":"p","type":"quantitative","title":null,"scale":{"domain":[96.202,100.478],"nice":false,"zero":false}},
  "text":{"field":"t"}}},
{"data":{"name":"last"},"mark":{"type":"rect","fill":"#000000","x2Offset":31,"yOffset":-5,"y2Offset":5},
 "encoding":{
  "x":{"datum":231.625,"type":"quantitative","scale":{"domain":[-0.625,231.625],"nice":false,"zero":false},"axis":null},
  "x2":{"datum":231.625},
  "y":{"field":"p","type":"quantitative","title":null,"scale":{"domain":[96.202,100.478],"nice":false,"zero":false}},
  "y2":{"field":"p"}}},
{"data":{"name":"last"},"mark":{"type":"text","color":"#ffffff","align":"left","baseline":"middle","dx":3,"fontSize":7,"font":"Liberation Sans"},
 "encoding":{
  "x":{"datum":231.625,"type":"quantitative","scale":{"domain":[-0.625,231.625],"nice":false,"zero":false},"axis":null},
  "y":{"field":"p","type":"quantitative","title":null,"scale":{"domain":[96.202,100.478],"nice":false,"zero":false}},
  "text":{"field":"t"}}}
]
}
